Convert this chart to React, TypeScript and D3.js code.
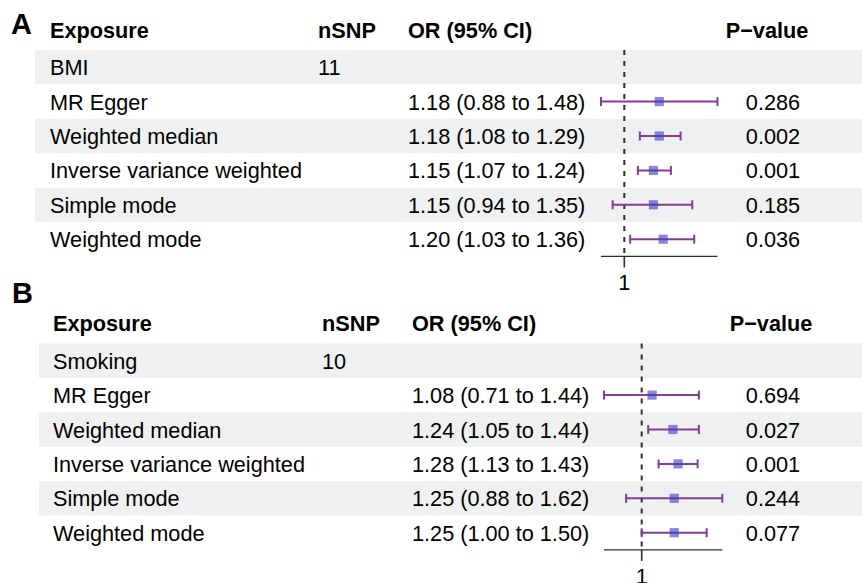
import React from "react";
import * as d3 from "d3";

// ---------- DATA ----------
const headers = ["Exposure", "nSNP", "OR (95% CI)", "P\u2212value"];
const methods = [
  "MR Egger",
  "Weighted median",
  "Inverse variance weighted",
  "Simple mode",
  "Weighted mode",
];

// Panel A: BMI
const exposureA = "BMI";
const nsnpA = "11";
const orA = [1.18, 1.18, 1.15, 1.15, 1.2];
const lowerA = [0.88, 1.08, 1.07, 0.94, 1.03];
const upperA = [1.48, 1.29, 1.24, 1.35, 1.36];
const pA = ["0.286", "0.002", "0.001", "0.185", "0.036"];

// Panel B: Smoking
const exposureB = "Smoking";
const nsnpB = "10";
const orB = [1.08, 1.24, 1.28, 1.25, 1.25];
const lowerB = [0.71, 1.05, 1.13, 0.88, 1.0];
const upperB = [1.44, 1.44, 1.43, 1.62, 1.5];
const pB = ["0.694", "0.027", "0.001", "0.244", "0.077"];

const refTicks = [1];

// ---------- STYLE ----------
const FONT = "'Liberation Sans', Arial, Helvetica, sans-serif";
const FS = 21.7;
const BAND = "#EEF1F0";
const CI_COL = "#843C96";
const BOX_COL = "#3F3FC0";

type PanelProps = {
  label: string;
  labelX: number;
  labelY: number;
  rowsTop: number;
  rowH: number;
  bandX: number;
  colX: number[];
  pCenter: number;
  pHeaderCenter: number;
  range: [number, number];
  exposure: string;
  nsnp: string;
  or: number[];
  lower: number[];
  upper: number[];
  p: string[];
};

function Panel(props: PanelProps) {
  const {
    label, labelX, labelY, rowsTop, rowH, bandX, colX, pCenter, pHeaderCenter,
    range, exposure, nsnp, or, lower, upper, p,
  } = props;
  const lo = d3.min(lower) as number;
  const hi = d3.max(upper) as number;
  const x = d3.scaleLinear().domain([lo, hi]).range(range);
  const nRows = methods.length + 1;
  const axisY = rowsTop + nRows * rowH;
  const rowCenter = (i: number) => rowsTop + (i + 0.5) * rowH;
  const headerY = rowsTop - 12.5;
  const half = 4.6;
  const cap = 4.5;

  return (
    <g>
      <text x={labelX} y={labelY} fontSize={29} fontWeight="bold" fontFamily={FONT}>
        {label}
      </text>
      {/* bands */}
      {d3.range(nRows).filter((i) => i % 2 === 0).map((i) => (
        <rect key={"b" + i} x={bandX} y={rowsTop + i * rowH} width={862 - bandX} height={rowH} fill={BAND} />
      ))}
      {/* headers */}
      {headers.slice(0, 3).map((h, i) => (
        <text key={"h" + i} x={colX[i]} y={headerY} fontSize={FS} fontWeight="bold" fontFamily={FONT}>
          {h}
        </text>
      ))}
      <text x={pHeaderCenter} y={headerY} textAnchor="middle" fontSize={FS} fontWeight="bold" fontFamily={FONT}>
        {headers[3]}
      </text>
      {/* exposure row */}
      <text x={colX[0]} y={rowCenter(0) + 8} fontSize={FS} fontFamily={FONT}>{exposure}</text>
      <text x={colX[1]} y={rowCenter(0) + 8} fontSize={FS} fontFamily={FONT}>{nsnp}</text>
      {/* method rows */}
      {methods.map((m, j) => {
        const cy = rowCenter(j + 1);
        return (
          <g key={"m" + j}>
            <text x={colX[0]} y={cy + 8} fontSize={FS} fontFamily={FONT}>{m}</text>
            <text x={colX[2]} y={cy + 8} fontSize={FS} fontFamily={FONT}>
              {`${or[j].toFixed(2)} (${lower[j].toFixed(2)} to ${upper[j].toFixed(2)})`}
            </text>
            <text x={pCenter} y={cy + 8} textAnchor="middle" fontSize={FS} fontFamily={FONT}>{p[j]}</text>
          </g>
        );
      })}
      {/* reference dashed line */}
      {refTicks.map((t) => (
        <line key={"ref" + t} x1={x(t)} x2={x(t)} y1={rowsTop} y2={axisY} stroke="#2e2e2e" strokeWidth={2} strokeDasharray="5,6" />
      ))}
      {/* CIs */}
      {methods.map((m, j) => {
        const cy = rowCenter(j + 1);
        return (
          <g key={"ci" + j}>
            <line x1={x(lower[j])} x2={x(upper[j])} y1={cy} y2={cy} stroke={CI_COL} strokeWidth={2} />
            <line x1={x(lower[j])} x2={x(lower[j])} y1={cy - cap} y2={cy + cap} stroke={CI_COL} strokeWidth={2} />
            <line x1={x(upper[j])} x2={x(upper[j])} y1={cy - cap} y2={cy + cap} stroke={CI_COL} strokeWidth={2} />
            <rect x={x(or[j]) - half} y={cy - half} width={2 * half} height={2 * half} fill={BOX_COL} fillOpacity={0.62} />
          </g>
        );
      })}
      {/* axis */}
      <line x1={range[0]} x2={range[1]} y1={axisY} y2={axisY} stroke="#2e2e2e" strokeWidth={1.3} />
      {refTicks.map((t) => (
        <g key={"t" + t}>
          <line x1={x(t)} x2={x(t)} y1={axisY} y2={axisY + 11} stroke="#2e2e2e" strokeWidth={1.6} />
          <text x={x(t)} y={axisY + 34} textAnchor="middle" fontSize={FS} fontFamily={FONT}>{t}</text>
        </g>
      ))}
    </g>
  );
}

export default function App() {
  return (
    <svg
      width={862}
      height={583}
      style={{ position: "absolute", left: 0, top: 0, background: "#fff" }}
    >
      <rect width={862} height={583} fill="#fff" />
      <Panel
        label="A"
        labelX={11}
        labelY={33.5}
        rowsTop={50}
        rowH={34.4}
        bandX={35}
        colX={[50, 318, 408]}
        pCenter={773}
        pHeaderCenter={767}
        range={[601, 717.5]}
        exposure={exposureA}
        nsnp={nsnpA}
        or={orA}
        lower={lowerA}
        upper={upperA}
        p={pA}
      />
      <Panel
        label="B"
        labelX={12}
        labelY={303}
        rowsTop={343.5}
        rowH={34.4}
        bandX={39}
        colX={[53, 322, 412]}
        pCenter={773}
        pHeaderCenter={771}
        range={[604, 722.3]}
        exposure={exposureB}
        nsnp={nsnpB}
        or={orB}
        lower={lowerB}
        upper={upperB}
        p={pB}
      />
    </svg>
  );
}
